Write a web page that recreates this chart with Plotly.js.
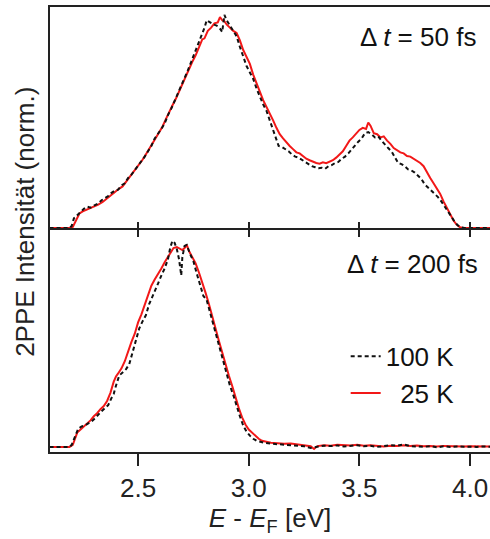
<!DOCTYPE html>
<html>
<head>
<meta charset="utf-8">
<script src="https://cdn.plot.ly/plotly-3.0.1.min.js"></script>
<style>html,body{margin:0;padding:0;background:#fff;}#chart{width:490px;height:539px;}</style>
</head>
<body>
<div id="chart"></div>
<script>
// Series: [E - E_F (eV), normalized 2PPE intensity]
const dt50_25K = [[2.10,0],[2.15,0],[2.19,0],[2.205,0.005],[2.22,0.04],[2.235,0.068],[2.25,0.078],[2.265,0.085],[2.28,0.09],[2.30,0.098],[2.32,0.11],[2.34,0.122],[2.355,0.135],[2.37,0.145],[2.385,0.16],[2.40,0.17],[2.415,0.185],[2.43,0.195],[2.445,0.215],[2.46,0.235],[2.475,0.255],[2.49,0.275],[2.505,0.30],[2.52,0.32],[2.535,0.345],[2.55,0.37],[2.565,0.395],[2.58,0.42],[2.595,0.445],[2.61,0.475],[2.625,0.51],[2.64,0.545],[2.655,0.575],[2.67,0.605],[2.685,0.64],[2.70,0.68],[2.715,0.71],[2.73,0.745],[2.745,0.78],[2.76,0.81],[2.775,0.85],[2.79,0.885],[2.80,0.89],[2.815,0.925],[2.83,0.94],[2.845,0.96],[2.86,0.965],[2.87,0.99],[2.88,0.975],[2.89,0.97],[2.90,0.955],[2.915,0.94],[2.93,0.925],[2.945,0.915],[2.96,0.88],[2.975,0.835],[2.99,0.80],[3.005,0.77],[3.02,0.72],[3.035,0.675],[3.05,0.64],[3.065,0.60],[3.08,0.57],[3.095,0.535],[3.11,0.505],[3.125,0.47],[3.14,0.44],[3.155,0.42],[3.17,0.40],[3.185,0.385],[3.20,0.37],[3.215,0.355],[3.23,0.35],[3.245,0.338],[3.26,0.325],[3.275,0.318],[3.29,0.31],[3.305,0.305],[3.32,0.302],[3.335,0.308],[3.35,0.304],[3.365,0.312],[3.38,0.318],[3.395,0.33],[3.41,0.345],[3.425,0.36],[3.44,0.385],[3.455,0.41],[3.47,0.425],[3.485,0.445],[3.50,0.46],[3.515,0.47],[3.53,0.465],[3.54,0.495],[3.55,0.48],[3.565,0.445],[3.58,0.44],[3.595,0.425],[3.61,0.43],[3.625,0.41],[3.64,0.395],[3.655,0.375],[3.67,0.365],[3.685,0.355],[3.70,0.35],[3.715,0.338],[3.73,0.335],[3.745,0.325],[3.76,0.315],[3.775,0.305],[3.79,0.29],[3.805,0.26],[3.82,0.235],[3.835,0.21],[3.85,0.185],[3.865,0.16],[3.88,0.125],[3.895,0.095],[3.91,0.06],[3.925,0.035],[3.94,0.015],[3.955,0.003],[3.97,0],[4.0,0],[4.09,0]];

const dt50_100K = [[2.10,0],[2.19,0],[2.20,0.01],[2.21,0.045],[2.225,0.06],[2.24,0.075],[2.255,0.09],[2.27,0.10],[2.285,0.095],[2.30,0.105],[2.32,0.115],[2.335,0.13],[2.35,0.14],[2.365,0.15],[2.38,0.165],[2.395,0.175],[2.41,0.18],[2.425,0.20],[2.44,0.21],[2.455,0.235],[2.47,0.25],[2.485,0.27],[2.50,0.29],[2.515,0.315],[2.53,0.335],[2.545,0.36],[2.56,0.385],[2.575,0.42],[2.59,0.44],[2.605,0.465],[2.62,0.49],[2.635,0.53],[2.65,0.56],[2.665,0.595],[2.68,0.635],[2.695,0.67],[2.71,0.70],[2.725,0.74],[2.74,0.78],[2.755,0.82],[2.77,0.86],[2.785,0.895],[2.80,0.94],[2.81,0.975],[2.825,0.965],[2.84,0.955],[2.855,0.95],[2.87,0.935],[2.88,0.92],[2.89,1.0],[2.90,0.975],[2.915,0.95],[2.93,0.93],[2.945,0.90],[2.96,0.85],[2.975,0.80],[2.99,0.76],[3.005,0.73],[3.02,0.70],[3.035,0.655],[3.05,0.615],[3.065,0.58],[3.08,0.55],[3.095,0.505],[3.11,0.465],[3.125,0.42],[3.135,0.385],[3.15,0.38],[3.165,0.37],[3.18,0.36],[3.195,0.345],[3.21,0.335],[3.225,0.33],[3.24,0.32],[3.255,0.31],[3.27,0.298],[3.285,0.29],[3.30,0.285],[3.315,0.28],[3.33,0.283],[3.345,0.278],[3.36,0.29],[3.375,0.295],[3.39,0.305],[3.405,0.31],[3.42,0.325],[3.435,0.335],[3.45,0.35],[3.465,0.37],[3.48,0.39],[3.495,0.405],[3.51,0.42],[3.525,0.445],[3.54,0.45],[3.555,0.44],[3.57,0.425],[3.585,0.43],[3.60,0.41],[3.615,0.39],[3.63,0.375],[3.645,0.36],[3.66,0.33],[3.675,0.305],[3.69,0.30],[3.705,0.29],[3.72,0.275],[3.735,0.27],[3.75,0.26],[3.765,0.245],[3.78,0.23],[3.795,0.205],[3.81,0.19],[3.825,0.175],[3.84,0.16],[3.855,0.145],[3.87,0.125],[3.885,0.10],[3.90,0.075],[3.915,0.05],[3.93,0.03],[3.945,0.012],[3.96,0.003],[3.975,0],[4.09,0]];

const dt200_25K = [[2.10,0],[2.15,-0.002],[2.19,0],[2.205,0.01],[2.215,0.04],[2.225,0.07],[2.24,0.085],[2.255,0.10],[2.27,0.115],[2.285,0.13],[2.30,0.15],[2.315,0.165],[2.33,0.185],[2.345,0.20],[2.36,0.225],[2.375,0.265],[2.39,0.32],[2.40,0.345],[2.41,0.36],[2.425,0.385],[2.44,0.42],[2.455,0.47],[2.47,0.515],[2.485,0.555],[2.50,0.61],[2.515,0.65],[2.53,0.695],[2.545,0.745],[2.56,0.79],[2.575,0.82],[2.59,0.845],[2.605,0.875],[2.62,0.905],[2.635,0.93],[2.65,0.955],[2.66,0.975],[2.675,0.98],[2.69,0.97],[2.70,0.965],[2.71,0.975],[2.72,0.99],[2.73,0.96],[2.745,0.93],[2.76,0.90],[2.775,0.855],[2.79,0.81],[2.805,0.755],[2.82,0.70],[2.835,0.645],[2.85,0.58],[2.865,0.52],[2.88,0.46],[2.895,0.40],[2.91,0.35],[2.925,0.30],[2.94,0.24],[2.955,0.19],[2.97,0.145],[2.985,0.11],[3.00,0.085],[3.015,0.07],[3.03,0.055],[3.045,0.04],[3.06,0.03],[3.08,0.025],[3.10,0.02],[3.13,0.018],[3.16,0.015],[3.19,0.017],[3.22,0.012],[3.25,0.01],[3.28,0.003],[3.295,-0.01],[3.31,0.004],[3.34,0.008],[3.37,0.006],[3.40,0.01],[3.43,0.008],[3.46,0.007],[3.49,0.01],[3.52,0.006],[3.55,0.008],[3.58,0.005],[3.61,0.002],[3.64,0.006],[3.67,0.004],[3.70,0.008],[3.73,0.005],[3.76,0.007],[3.79,0.003],[3.82,0.004],[3.85,0.002],[3.88,0.005],[3.91,0.003],[3.94,0.004],[3.97,0.002],[4.00,0.003],[4.03,0.002],[4.06,0.003],[4.09,0.002]];

const dt200_100K = [[2.10,0],[2.19,0],[2.20,0.01],[2.215,0.05],[2.23,0.09],[2.245,0.10],[2.26,0.105],[2.275,0.115],[2.29,0.125],[2.305,0.14],[2.32,0.16],[2.335,0.175],[2.35,0.19],[2.365,0.205],[2.38,0.24],[2.39,0.26],[2.40,0.30],[2.415,0.35],[2.43,0.365],[2.445,0.38],[2.46,0.405],[2.475,0.46],[2.49,0.52],[2.505,0.58],[2.52,0.615],[2.535,0.645],[2.55,0.70],[2.565,0.735],[2.575,0.76],[2.59,0.80],[2.605,0.84],[2.62,0.875],[2.635,0.92],[2.645,0.975],[2.655,1.01],[2.665,1.0],[2.675,0.97],[2.685,0.92],[2.695,0.84],[2.70,0.93],[2.71,0.985],[2.72,0.99],[2.735,0.945],[2.75,0.91],[2.765,0.85],[2.78,0.79],[2.795,0.74],[2.81,0.72],[2.825,0.66],[2.84,0.60],[2.855,0.54],[2.87,0.47],[2.885,0.41],[2.90,0.36],[2.915,0.30],[2.93,0.255],[2.945,0.20],[2.96,0.15],[2.975,0.105],[2.99,0.075],[3.005,0.055],[3.02,0.04],[3.035,0.03],[3.05,0.025],[3.07,0.02],[3.10,0.016],[3.13,0.013],[3.16,0.012],[3.19,0.008],[3.22,0.006],[3.25,0.003],[3.28,-0.005],[3.31,0.0],[3.34,0.006],[3.37,0.004],[3.40,0.007],[3.43,0.002],[3.46,0.005],[3.49,0.008],[3.52,0.003],[3.55,0.005],[3.58,0.0],[3.61,0.004],[3.64,0.008],[3.67,0.006],[3.70,0.012],[3.73,0.004],[3.76,0.002],[3.79,0.0],[3.82,0.004],[3.85,-0.002],[3.88,0.003],[3.91,0.0],[3.94,0.002],[3.97,0.001],[4.00,0.002],[4.03,0.0],[4.06,0.002],[4.09,0.001]];

const seriesNames = ['25 K', '100 K'];
const panelLabels = ['Δ <i>t</i> = 50 fs', 'Δ <i>t</i> = 200 fs'];
const tickValues = [2.5, 3.0, 3.5, 4.0];
const tickLabels = ['2.5', '3.0', '3.5', '4.0'];

const RED = '#f21818';
const BLACK = '#111111';
const AX = '#222222';
const FONT = 'Liberation Sans, Arial, sans-serif';
const FS = 26;

const xs = s => s.map(p => p[0]);
const ys = s => s.map(p => p[1]);

const redLine = {color: RED, width: 2};
const blackLine = {color: BLACK, width: 2, dash: '4px,3px'};

const traces = [
  {x: xs(dt50_25K), y: ys(dt50_25K), xaxis: 'x2', yaxis: 'y2', mode: 'lines', line: redLine, showlegend: false, name: seriesNames[0]},
  {x: xs(dt50_100K), y: ys(dt50_100K), xaxis: 'x3', yaxis: 'y2', mode: 'lines', line: blackLine, showlegend: false, name: seriesNames[1]},
  {x: xs(dt200_25K), y: ys(dt200_25K), xaxis: 'x', yaxis: 'y', mode: 'lines', line: redLine, name: '\u00a0\u00a0' + seriesNames[0]},
  {x: xs(dt200_100K), y: ys(dt200_100K), xaxis: 'x', yaxis: 'y', mode: 'lines', line: blackLine, name: seriesNames[1]}
];

const xRange = [2.102, 4.09];
const split = 0.5034;

const layout = {
  width: 490, height: 539,
  margin: {l: 50, r: 0, t: 7, b: 87},
  paper_bgcolor: '#fff', plot_bgcolor: '#fff',
  font: {family: FONT, size: FS, color: AX},
  showlegend: true,
  legend: {x: 0.672, xanchor: 'left', y: 0.268, yanchor: 'top', traceorder: 'reversed',
           bgcolor: 'rgba(0,0,0,0)', font: {size: FS, color: '#111'}, tracegroupgap: 0},
  xaxis: {domain: [0, 1], anchor: 'y', range: xRange, showline: true, linewidth: 2, linecolor: AX,
          ticks: 'outside', ticklen: 12, tickwidth: 2, tickcolor: AX,
          tickvals: tickValues, ticktext: tickLabels, tickfont: {size: FS, color: '#222'},
          showgrid: false, zeroline: false,
          title: {text: '<i>E</i> - <i>E</i><sub>F</sub> [eV]', font: {size: FS, color: '#222'}, standoff: 6}},
  xaxis2: {domain: [0, 1], anchor: 'y2', range: xRange, showline: true, mirror: true, linewidth: 2, linecolor: AX,
           ticks: 'outside', ticklen: 7, tickwidth: 2, tickcolor: AX, tickvals: tickValues,
           showticklabels: false, showgrid: false, zeroline: false},
  xaxis3: {overlaying: 'x2', anchor: 'y2', range: xRange, showline: false,
           ticks: 'inside', ticklen: 6, tickwidth: 2, tickcolor: AX, tickvals: tickValues,
           showticklabels: false, showgrid: false, zeroline: false},
  yaxis: {domain: [0, split], range: [-0.025, 1.073], showline: true, linewidth: 2, linecolor: AX,
          ticks: '', showticklabels: false, showgrid: false, zeroline: false},
  yaxis2: {domain: [split, 1], range: [0, 1.037], showline: true, linewidth: 2, linecolor: AX,
           ticks: '', showticklabels: false, showgrid: false, zeroline: false},
  annotations: [
    {text: '2PPE Intensität (norm.)', xref: 'paper', yref: 'paper', x: -0.057, y: 0.517,
     textangle: -90, showarrow: false, xanchor: 'center', yanchor: 'middle', font: {size: FS, color: '#222'}},
    {text: panelLabels[0], xref: 'paper', yref: 'paper', x: 0.9727, y: 0.9326,
     showarrow: false, xanchor: 'right', yanchor: 'middle', font: {size: FS, color: '#111'}},
    {text: panelLabels[1], xref: 'paper', yref: 'paper', x: 0.977, y: 0.4225,
     showarrow: false, xanchor: 'right', yanchor: 'middle', font: {size: FS, color: '#111'}}
  ]
};

Plotly.newPlot('chart', traces, layout, {staticPlot: true, displayModeBar: false});
</script>
</body>
</html>
